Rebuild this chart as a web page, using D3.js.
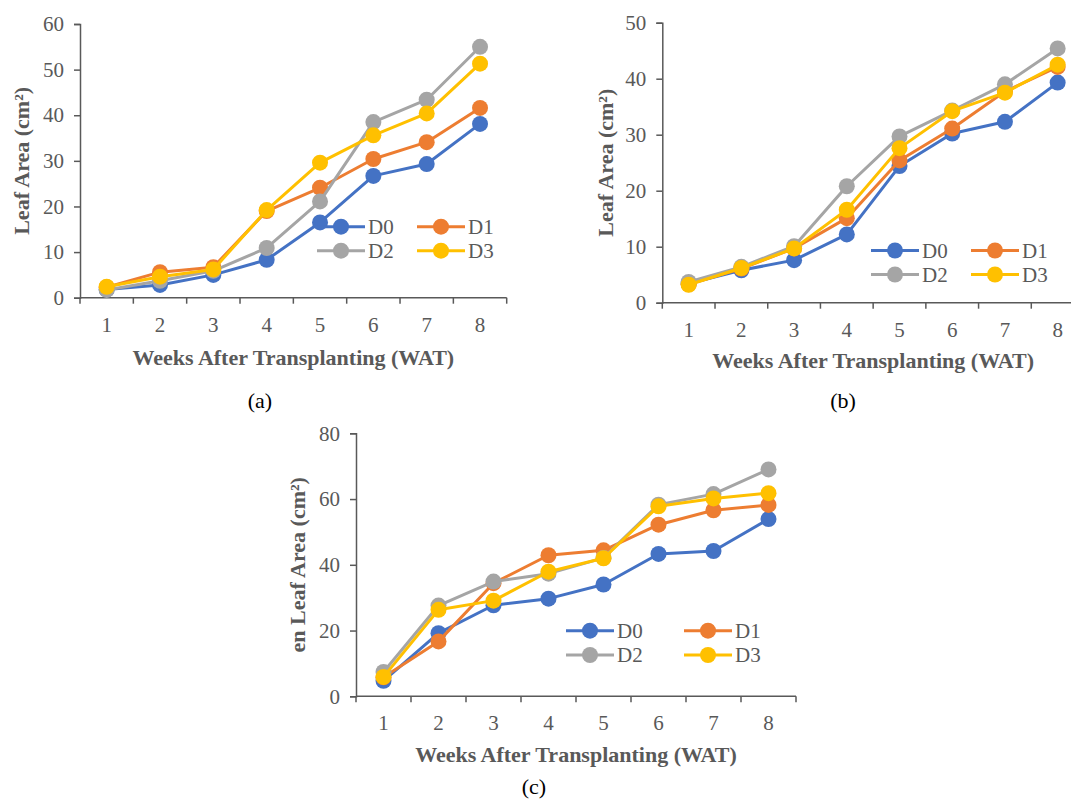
<!DOCTYPE html>
<html>
<head>
<meta charset="utf-8">
<script src="https://cdn.jsdelivr.net/npm/d3@7"></script>
<style>
  html, body { margin: 0; padding: 0; background: #fff; }
  svg { display: block; }
  text { font-family: "Liberation Serif", "Times New Roman", serif; }
</style>
</head>
<body>
<svg id="chart" width="1071" height="800"></svg>
<script>
// ---------- DATA ----------
const weeks = ["1", "2", "3", "4", "5", "6", "7", "8"];
const seriesNames = ["D0", "D1", "D2", "D3"];
const seriesColors = ["#4472C4", "#ED7D31", "#A5A5A5", "#FFC000"];

// Panel (a)
const aD0 = [1.8, 2.8, 5.0, 8.3, 16.5, 26.7, 29.3, 38.1];
const aD1 = [2.3, 5.6, 6.7, 19.0, 24.1, 30.4, 34.1, 41.6];
const aD2 = [1.7, 3.7, 5.9, 10.9, 21.1, 38.5, 43.4, 55.0];
const aD3 = [2.4, 4.6, 6.2, 19.2, 29.6, 35.6, 40.4, 51.3];
const aTicks = [0, 10, 20, 30, 40, 50, 60];

// Panel (b)
const bD0 = [3.4, 5.8, 7.6, 12.2, 24.4, 30.2, 32.3, 39.3];
const bD1 = [3.3, 6.1, 9.7, 15.1, 25.4, 31.1, 37.7, 42.1];
const bD2 = [3.7, 6.4, 10.1, 20.8, 29.7, 34.3, 39.0, 45.4];
const bD3 = [3.2, 6.2, 9.7, 16.6, 27.6, 34.2, 37.5, 42.5];
const bTicks = [0, 10, 20, 30, 40, 50];

// Panel (c)
const cD0 = [4.7, 19.2, 27.7, 29.7, 34.0, 43.3, 44.2, 53.9];
const cD1 = [5.8, 16.7, 34.4, 42.9, 44.4, 52.2, 56.6, 58.2];
const cD2 = [7.4, 27.6, 34.9, 37.3, 42.1, 58.3, 61.5, 69.0];
const cD3 = [5.9, 26.3, 29.1, 37.9, 42.0, 57.8, 60.2, 61.8];
const cTicks = [0, 20, 40, 60, 80];

const xTitle = "Weeks After Transplanting (WAT)";
const yTitleAB = "Leaf Area (cm²)";
const yTitleC = "en Leaf Area (cm²)";
const captions = ["(a)", "(b)", "(c)"];

// ---------- DRAW ----------
const svg = d3.select("#chart");
const axisColor = "#595959";
const textColor = "#595959";

function drawPanel(cfg) {
  const g = svg.append("g");
  const x = d3.scaleBand().domain(weeks).range([cfg.left, cfg.right]).padding(0);
  const y = d3.scaleLinear().domain([0, cfg.ticks[cfg.ticks.length - 1]]).range([cfg.bottom, cfg.top]);

  // Y axis
  const yAxis = d3.axisLeft(y).tickValues(cfg.ticks).tickSize(6).tickPadding(10).tickFormat(d3.format("d"));
  const ya = g.append("g").attr("transform", `translate(${cfg.left},0)`).call(yAxis);
  ya.select(".domain").attr("stroke", axisColor).attr("stroke-width", 1.5);
  ya.selectAll(".tick line").attr("stroke", axisColor).attr("stroke-width", 1.5);
  ya.selectAll(".tick text").attr("fill", textColor).style("font-size", "21px")
    .style("font-family", '"Liberation Serif", "Times New Roman", serif');

  // X axis (ticks at category boundaries)
  const bounds = d3.range(weeks.length + 1).map(i => cfg.left + i * x.bandwidth());
  const xa = g.append("g");
  xa.append("line").attr("x1", cfg.left).attr("x2", cfg.right)
    .attr("y1", cfg.bottom).attr("y2", cfg.bottom)
    .attr("stroke", axisColor).attr("stroke-width", 1.5);
  xa.selectAll("line.tk").data(bounds).join("line").attr("class", "tk")
    .attr("x1", d => d).attr("x2", d => d)
    .attr("y1", cfg.bottom).attr("y2", cfg.bottom + 6)
    .attr("stroke", axisColor).attr("stroke-width", 1.5);
  xa.selectAll("text").data(weeks).join("text")
    .attr("x", d => x(d) + x.bandwidth() / 2)
    .attr("y", cfg.bottom + 34)
    .attr("text-anchor", "middle")
    .attr("fill", textColor).style("font-size", "21px")
    .text(d => d);

  // Series
  const line = d3.line().x((d, i) => x(weeks[i]) + x.bandwidth() / 2).y(d => y(d));
  cfg.series.forEach((vals, si) => {
    const sg = g.append("g");
    sg.append("path").datum(vals).attr("d", line)
      .attr("fill", "none").attr("stroke", seriesColors[si]).attr("stroke-width", 3)
      .attr("stroke-linejoin", "round");
    sg.selectAll("circle").data(vals).join("circle")
      .attr("cx", (d, i) => x(weeks[i]) + x.bandwidth() / 2)
      .attr("cy", d => y(d))
      .attr("r", 8)
      .attr("fill", seriesColors[si]);
  });

  // Axis titles
  g.append("text")
    .attr("x", (cfg.left + cfg.right) / 2).attr("y", cfg.xTitleY)
    .attr("text-anchor", "middle").attr("fill", textColor)
    .style("font-size", "22px").style("font-weight", "bold")
    .text(xTitle);
  g.append("text")
    .attr("transform", `translate(${cfg.yTitleX},${(cfg.top + cfg.bottom) / 2}) rotate(-90)`)
    .attr("text-anchor", "middle").attr("fill", textColor)
    .style("font-size", "22px").style("font-weight", "bold")
    .text(cfg.yTitle);

  // Legend
  seriesNames.forEach((name, si) => {
    const col = si % 2, row = Math.floor(si / 2);
    const lx = cfg.legend.cols[col];
    const ly = cfg.legend.rows[row];
    const lg = g.append("g");
    lg.append("line").attr("x1", lx).attr("x2", lx + 48).attr("y1", ly).attr("y2", ly)
      .attr("stroke", seriesColors[si]).attr("stroke-width", 3);
    lg.append("circle").attr("cx", lx + 24).attr("cy", ly).attr("r", 8).attr("fill", seriesColors[si]);
    lg.append("text").attr("x", lx + 51).attr("y", ly).attr("dy", "0.35em")
      .attr("fill", textColor).style("font-size", "21px").text(name);
  });

  // Caption
  svg.append("text").attr("x", cfg.capX).attr("y", cfg.capY)
    .attr("text-anchor", "middle").attr("fill", "#000")
    .style("font-size", "22px").text(cfg.caption);
}

drawPanel({
  left: 80, right: 506.7, top: 24, bottom: 297.7, ticks: aTicks,
  series: [aD0, aD1, aD2, aD3], yTitle: yTitleAB, yTitleX: 29,
  xTitleY: 365, legend: { cols: [317, 417], rows: [226.7, 250.7] },
  caption: captions[0], capX: 260, capY: 408
});
drawPanel({
  left: 662.3, right: 1084, top: 22.7, bottom: 302.7, ticks: bTicks,
  series: [bD0, bD1, bD2, bD3], yTitle: yTitleAB, yTitleX: 613,
  xTitleY: 368, legend: { cols: [871, 971], rows: [250.5, 274.5] },
  caption: captions[1], capX: 843, capY: 408
});
drawPanel({
  left: 356, right: 796, top: 433.3, bottom: 696.3, ticks: cTicks,
  series: [cD0, cD1, cD2, cD3], yTitle: yTitleC, yTitleX: 305,
  xTitleY: 762, legend: { cols: [566, 684], rows: [630.7, 655] },
  caption: captions[2], capX: 534, capY: 794
});
</script>
</body>
</html>
